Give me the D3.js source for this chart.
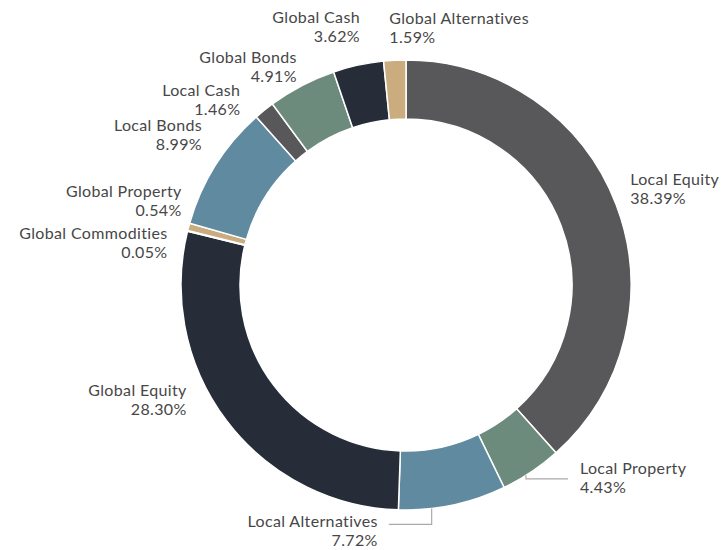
<!DOCTYPE html>
<html>
<head>
<meta charset="utf-8">
<script src="https://cdn.jsdelivr.net/npm/d3@7"></script>
<style>
  body { margin: 0; background: #fff; }
  text { font-family: Lato, "Open Sans", sans-serif; font-size: 16px; letter-spacing: 0.35px; fill: #474747; }
</style>
</head>
<body>
<script>
const width = 727;
const height = 550;

// slices, clockwise from 12 o'clock
const categories = [
  "Local Equity", "Local Property", "Local Alternatives", "Global Equity",
  "Global Commodities", "Global Property", "Local Bonds", "Local Cash",
  "Global Bonds", "Global Cash", "Global Alternatives"
];
const values = [38.39, 4.43, 7.72, 28.30, 0.05, 0.54, 8.99, 1.46, 4.91, 3.62, 1.59];

const gray = "#58585b", green = "#6c8b7c", blue = "#5f8aa0", dark = "#262d38", tan = "#cbac7f";
const colors = [gray, green, blue, dark, tan, tan, blue, gray, green, dark, tan];

// label tweaks (pixels) after placing on the label ring; conn = connector angle offset (deg)
const labelAdjust = {
  "Local Equity":        {dx: -14, dy: -9, anchor: "start"},
  "Local Property":      {dx: 32, dy: -22, anchor: "start", conn: 1.6, cy: 4},
  "Local Alternatives":  {dx: -81, dy: -7, anchor: "end", conn: 5.4, cy: -3},
  "Global Equity":       {dx: -16, dy: -42, anchor: "end"},
  "Global Commodities":  {dx: 9, dy: 16, anchor: "end"},
  "Global Property":     {dx: 22, dy: -22, anchor: "end"},
  "Local Bonds":         {dx: 12, dy: -18, anchor: "end"},
  "Local Cash":          {dx: -5, dy: 9, anchor: "end"},
  "Global Bonds":        {dx: 9, dy: 4, anchor: "end"},
  "Global Cash":         {dx: 8, dy: -12, anchor: "end"},
  "Global Alternatives": {dx: -4, dy: -6, anchor: "start"}
};

const cx = 406, cy = 285;
const outerR = 225, innerR = 166, labelR = 255;
const lineGap = 19;

const data = categories.map((c, i) => ({name: c, value: values[i], color: colors[i]}));

const svg = d3.select("body").append("svg")
  .attr("width", width)
  .attr("height", height);

const g = svg.append("g")
  .attr("transform", `translate(${cx},${cy})`);

const pie = d3.pie()
  .value((d) => d.value)
  .sort(null);

const arc = d3.arc()
  .innerRadius(innerR)
  .outerRadius(outerR);

const arcs = pie(data);

g.selectAll("path.slice")
  .data(arcs)
  .enter()
  .append("path")
  .attr("class", "slice")
  .attr("d", arc)
  .attr("fill", (d) => d.data.color)
  .attr("stroke", "#fff")
  .attr("stroke-width", 1.5);

const point = (a, r) => [Math.sin(a) * r, -Math.cos(a) * r];

arcs.forEach((d) => {
  const mid = (d.startAngle + d.endAngle) / 2;
  const adj = labelAdjust[d.data.name];
  const [bx, by] = point(mid, labelR);
  const x = bx + adj.dx;
  const y = by + adj.dy - 0.5;
  const right = adj.anchor === "start";

  const t = g.append("text")
    .attr("text-anchor", adj.anchor);
  t.append("tspan").attr("x", x).attr("y", y).text(d.data.name);
  t.append("tspan").attr("x", x).attr("y", y + lineGap).text(d.data.value.toFixed(2) + "%");

  if (adj.conn !== undefined) {
    const a = mid + adj.conn * Math.PI / 180;
    const [sx, sy] = point(a, outerR);
    const ly = y + 0.5 + adj.cy;
    const ex = right ? x - 12 : x + 11;
    g.append("path")
      .attr("d", `M${sx},${sy}L${sx},${ly}L${ex},${ly}`)
      .attr("fill", "none")
      .attr("stroke", "#aaa")
      .attr("stroke-width", 1.2);
  }
});
</script>
</body>
</html>
